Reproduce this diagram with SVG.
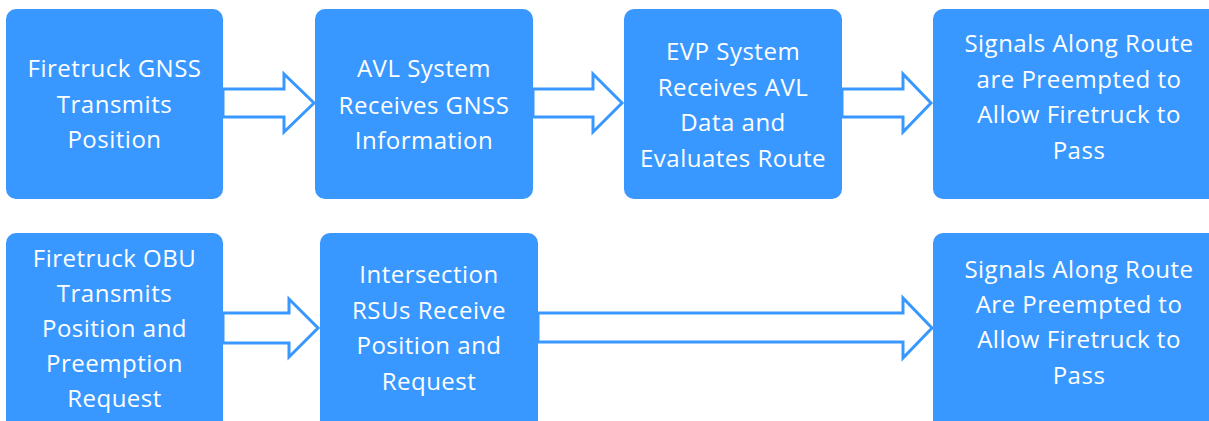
<svg xmlns="http://www.w3.org/2000/svg" width="1209" height="421" viewBox="0 0 1209 421">
  <style>
    .box { fill: #3898ff; }
    .lbl { fill: #ffffff; font-family: "Open Sans", "Liberation Sans", sans-serif; font-size: 24px; letter-spacing: 0.5px; text-anchor: middle; }
    .arrow { fill: #ffffff; stroke: #3898ff; stroke-width: 3; stroke-linejoin: miter; }
  </style>
  <rect width="1209" height="421" fill="#ffffff"/>

  <!-- block arrows between steps -->
  <g id="connectors">
    <path class="arrow" d="M223,89 H284 V74 L314,103 L284,132 V117 H223 Z"/>
    <path class="arrow" d="M533,89 H593 V74 L622,103 L593,132 V117 H533 Z"/>
    <path class="arrow" d="M842,89 H903 V74 L931,103 L903,132 V117 H842 Z"/>
    <path class="arrow" d="M223,313 H289 V299 L318,328 L289,357 V343 H223 Z"/>
    <path class="arrow" d="M538,313 H903 V298 L932,328 L903,358 V342 H538 Z"/>
  </g>

  <!-- top row: AVL-based preemption -->
  <g id="gnss">
    <rect class="box" x="6" y="9" width="217" height="190" rx="10"/>
    <text class="lbl" x="114.5"><tspan y="77">Firetruck GNSS</tspan><tspan x="114.5" y="113">Transmits</tspan><tspan x="114.5" y="148">Position</tspan></text>
  </g>
  <g id="avl">
    <rect class="box" x="315" y="9" width="218" height="190" rx="10"/>
    <text class="lbl" x="424"><tspan y="77">AVL System</tspan><tspan x="424" y="114">Receives GNSS</tspan><tspan x="424" y="149">Information</tspan></text>
  </g>
  <g id="evp">
    <rect class="box" x="624" y="9" width="218" height="190" rx="10"/>
    <text class="lbl" x="733"><tspan y="60">EVP System</tspan><tspan x="733" y="96">Receives AVL</tspan><tspan x="733" y="131">Data and</tspan><tspan x="733" y="167">Evaluates Route</tspan></text>
  </g>
  <g id="signals-avl">
    <rect class="box" x="933" y="9" width="292" height="190" rx="10"/>
    <text class="lbl" x="1079"><tspan y="52">Signals Along Route</tspan><tspan x="1079" y="88">are Preempted to</tspan><tspan x="1079" y="123">Allow Firetruck to</tspan><tspan x="1079" y="159">Pass</tspan></text>
  </g>

  <!-- bottom row: connected-vehicle preemption -->
  <g id="obu">
    <rect class="box" x="6" y="233" width="217" height="200" rx="10"/>
    <text class="lbl" x="114.5"><tspan y="267">Firetruck OBU</tspan><tspan x="114.5" y="302">Transmits</tspan><tspan x="114.5" y="337">Position and</tspan><tspan x="114.5" y="372">Preemption</tspan><tspan x="114.5" y="407">Request</tspan></text>
  </g>
  <g id="rsu">
    <rect class="box" x="320" y="233" width="218" height="200" rx="10"/>
    <text class="lbl" x="429"><tspan y="283">Intersection</tspan><tspan x="429" y="319">RSUs Receive</tspan><tspan x="429" y="354">Position and</tspan><tspan x="429" y="390">Request</tspan></text>
  </g>
  <g id="signals-cv">
    <rect class="box" x="933" y="233" width="292" height="200" rx="10"/>
    <text class="lbl" x="1079"><tspan y="278">Signals Along Route</tspan><tspan x="1079" y="313">Are Preempted to</tspan><tspan x="1079" y="348">Allow Firetruck to</tspan><tspan x="1079" y="384">Pass</tspan></text>
  </g>
</svg>
